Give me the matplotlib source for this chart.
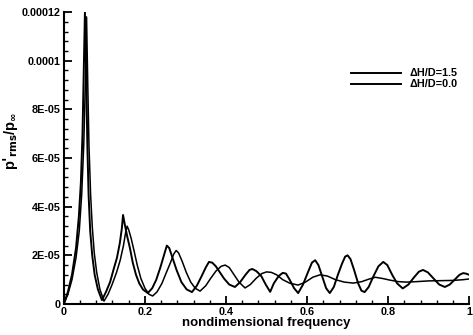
import matplotlib
matplotlib.use("Agg")
import matplotlib.pyplot as plt
from matplotlib.ticker import MultipleLocator
import numpy as np

plt.rcParams['font.family'] = ['Liberation Sans', 'DejaVu Sans']
plt.rcParams['font.weight'] = 'bold'
plt.rcParams['mathtext.default'] = 'bf'

# curve 1 (dH/D = 1.5), values in units of 1e-5
freq_a = [0.000, 0.010, 0.020, 0.030, 0.037, 0.042, 0.046, 0.049, 0.052, 0.055,
          0.058, 0.061, 0.065, 0.070, 0.076, 0.084, 0.094, 0.104, 0.114, 0.124,
          0.131, 0.138, 0.143, 0.146, 0.150, 0.156, 0.163, 0.170, 0.178, 0.186,
          0.195, 0.207, 0.218, 0.228, 0.238, 0.246, 0.254, 0.260, 0.268, 0.278,
          0.290, 0.303, 0.316, 0.328, 0.340, 0.350, 0.358, 0.366, 0.375, 0.385,
          0.395, 0.408, 0.422, 0.435, 0.448, 0.458, 0.465, 0.475, 0.487, 0.498,
          0.509, 0.518, 0.530, 0.540, 0.548, 0.557, 0.568, 0.578, 0.590, 0.602,
          0.612, 0.620, 0.628, 0.638, 0.647, 0.656, 0.666, 0.676, 0.686, 0.694,
          0.700, 0.707, 0.716, 0.726, 0.734, 0.742, 0.752, 0.764, 0.776, 0.788,
          0.798, 0.810, 0.822, 0.836, 0.850, 0.864, 0.876, 0.886, 0.898, 0.912,
          0.926, 0.940, 0.952, 0.964, 0.976, 0.985, 0.992, 1.000]
prms_a = [0.0, 0.5, 1.2, 2.3, 3.6, 5.0, 7.0, 9.5, 12.0, 9.5,
          6.5, 4.5, 3.0, 2.0, 1.2, 0.6, 0.16, 0.5, 0.9, 1.5,
          1.9, 2.5, 3.1, 3.66, 3.3, 2.8, 2.3, 1.7, 1.2, 0.85,
          0.6, 0.45, 0.65, 1.0, 1.5, 1.95, 2.4, 2.3, 1.9, 1.4,
          0.9, 0.6, 0.49, 0.75, 1.15, 1.5, 1.73, 1.7, 1.55, 1.3,
          1.05, 0.8, 0.7, 0.9, 1.2, 1.4, 1.44, 1.35, 1.15, 0.8,
          0.5, 0.85, 1.15, 1.28, 1.25, 1.0, 0.65, 0.45, 0.8, 1.3,
          1.7, 1.8, 1.6, 1.1, 0.65, 0.45, 0.7, 1.2, 1.65, 1.95,
          2.0, 1.85, 1.4, 0.85, 0.55, 0.49, 0.7, 1.15, 1.55, 1.73,
          1.6, 1.2, 0.85, 0.64, 0.8, 1.1, 1.33, 1.4, 1.3, 1.05,
          0.8, 0.7, 0.8, 1.0, 1.2, 1.27, 1.25, 1.2]

# curve 2 (dH/D = 0.0)
freq_b = [0.000, 0.010, 0.020, 0.030, 0.038, 0.044, 0.049, 0.053, 0.056, 0.059,
          0.062, 0.066, 0.070, 0.075, 0.081, 0.089, 0.099, 0.109, 0.119, 0.130,
          0.139, 0.147, 0.152, 0.156, 0.160, 0.166, 0.173, 0.181, 0.190, 0.200,
          0.210, 0.219, 0.230, 0.242, 0.253, 0.263, 0.271, 0.277, 0.283, 0.292,
          0.302, 0.313, 0.324, 0.336, 0.350, 0.362, 0.375, 0.388, 0.398, 0.408,
          0.420, 0.432, 0.447, 0.460, 0.474, 0.488, 0.500, 0.512, 0.525, 0.540,
          0.558, 0.578, 0.596, 0.614, 0.632, 0.650, 0.670, 0.692, 0.714, 0.735,
          0.752, 0.768, 0.786, 0.805, 0.825, 0.845, 0.870, 0.900, 0.930, 0.960,
          0.985, 1.000]
prms_b = [0.0, 0.4, 1.0, 1.9, 3.0, 4.5, 6.5, 9.0, 11.8, 9.0,
          6.5, 4.5, 3.2, 2.1, 1.3, 0.6, 0.12, 0.4, 0.8, 1.3,
          1.8, 2.4, 2.9, 3.2, 3.05, 2.7, 2.2, 1.6, 1.05, 0.65,
          0.4, 0.33, 0.5, 0.85, 1.3, 1.7, 2.05, 2.2, 2.1, 1.75,
          1.3, 0.9, 0.65, 0.53, 0.75, 1.05, 1.35, 1.55, 1.6, 1.5,
          1.2, 0.9, 0.66, 0.8, 1.05, 1.25, 1.32, 1.3, 1.2, 1.0,
          0.85, 0.78, 0.9, 1.1, 1.2, 1.15, 1.0, 0.9, 0.86, 0.92,
          1.02, 1.1, 1.05, 0.98, 0.92, 0.9, 0.92, 0.95, 0.96, 0.97,
          1.0, 1.03]

labels = ['\u0394H/D=1.5', '\u0394H/D=0.0']
ytick_vals = [0, 2e-5, 4e-5, 6e-5, 8e-5, 1e-4, 1.2e-4]
ytick_text = ['0', '2E-05', '4E-05', '6E-05', '8E-05', '0.0001', '0.00012']
xtick_vals = [0, 0.2, 0.4, 0.6, 0.8, 1.0]
xtick_text = ['0', '0.2', '0.4', '0.6', '0.8', '1']

fig = plt.figure(figsize=(4.73, 3.35), dpi=100)
ax = fig.add_axes([0.135, 0.0925, 0.857, 0.8715])

ax.plot(freq_a, np.array(prms_a) * 1e-5, color='black', lw=1.4, label=labels[0])
ax.plot(freq_b, np.array(prms_b) * 1e-5, color='black', lw=1.1, label=labels[1])

ax.set_xlim(0, 1)
ax.set_ylim(0, 1.2e-4)
ax.set_xticks(xtick_vals)
ax.set_xticklabels(xtick_text)
ax.set_yticks(ytick_vals)
ax.set_yticklabels(ytick_text)
ax.xaxis.set_minor_locator(MultipleLocator(0.04))
ax.yaxis.set_minor_locator(MultipleLocator(4e-6))
ax.tick_params(which='major', direction='in', length=6, width=1.3, labelsize=7.8, pad=2.5)
ax.tick_params(which='minor', direction='in', length=3, width=1.0)
for s in ['top', 'right']:
    ax.spines[s].set_visible(False)
for s in ['left', 'bottom']:
    ax.spines[s].set_linewidth(1.5)

ax.set_xlabel('nondimensional frequency', fontsize=9.5, fontweight='bold', labelpad=0)
ax.set_ylabel("p$'_{rms}$/p$_\\infty$", fontsize=10.5, fontweight='bold')
ax.yaxis.set_label_coords(-0.108, 0.56)

ax.legend(loc='upper left', bbox_to_anchor=(0.722, 0.825), bbox_transform=fig.transFigure,
          frameon=False, fontsize=7.8, handlelength=4.6, handletextpad=0.8, labelspacing=0.1)
for ln in ax.get_legend().get_lines():
    ln.set_linewidth(1.4)

fig.savefig('out.png', dpi=100)
